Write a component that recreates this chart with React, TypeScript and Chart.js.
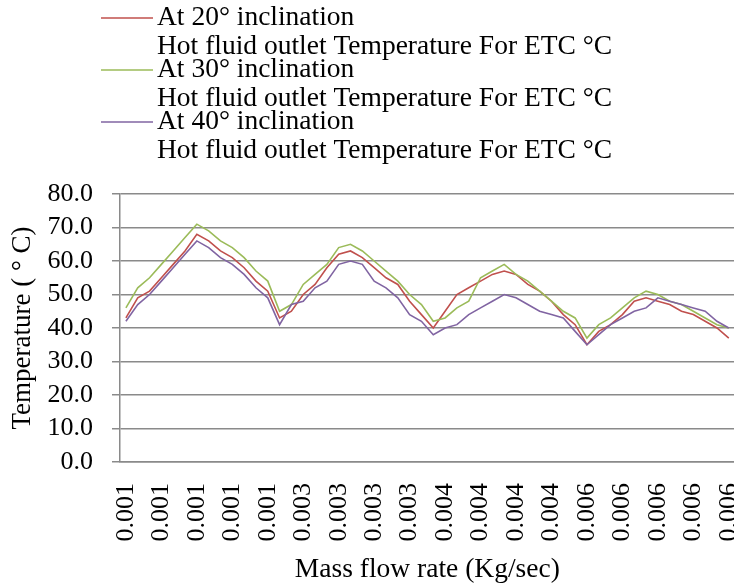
import React, { useEffect, useRef } from "react";
import { Chart, registerables } from "chart.js";

Chart.register(...registerables);

const categories = [
  "0.001", "0.001", "0.001", "0.001", "0.001", "0.001", "0.001", "0.001", "0.001", "0.001", "0.001", "0.001", "0.001",
  "0.003", "0.003", "0.003", "0.003", "0.003", "0.003", "0.003", "0.003", "0.003", "0.003", "0.003", "0.003", "0.003",
  "0.004", "0.004", "0.004", "0.004", "0.004", "0.004", "0.004", "0.004", "0.004", "0.004", "0.004", "0.004", "0.004",
  "0.006", "0.006", "0.006", "0.006", "0.006", "0.006", "0.006", "0.006", "0.006", "0.006", "0.006", "0.006", "0.006",
];

const at20 = [
  43, 49, 51, 55, 59, 63, 68, 66, 63, 61, 58, 54, 51,
  43, 45, 50, 53, 58, 62, 63, 61, 58, 55, 53, 48, 44,
  40, 45, 50, 52, 54, 56, 57, 56, 53, 51, 48, 44, 41,
  35, 39, 41, 44, 48, 49, 48, 47, 45, 44, 42, 40, 37,
];

const at30 = [
  46, 52, 55, 59, 63, 67, 71, 69, 66, 64, 61, 57, 54,
  45, 47, 53, 56, 59, 64, 65, 63, 60, 57, 54, 50, 47,
  42, 43, 46, 48, 55, 57, 59, 56, 54, 51, 48, 45, 43,
  37, 41, 43, 46, 49, 51, 50, 48, 47, 45, 43, 41, 40,
];

const at40 = [
  42, 47, 50, 54, 58, 62, 66, 64, 61, 59, 56, 52, 49,
  41, 47, 48, 52, 54, 59, 60, 59, 54, 52, 49, 44, 42,
  38, 40, 41, 44, 46, 48, 50, 49, 47, 45, 44, 43, 39,
  35, 38, 41, 43, 45, 46, 49, 48, 47, 46, 45, 42, 40,
];

const seriesNames = ["At 20° inclination", "At 30° inclination", "At 40° inclination"];
const seriesSubtitle = "Hot fluid outlet Temperature For ETC °C";
const seriesColors = ["#C0504D", "#9BBB59", "#8064A2"];
const yTicks = [0, 10, 20, 30, 40, 50, 60, 70, 80];
const xTitle = "Mass flow rate (Kg/sec)";
const yTitle = "Temperature ( ° C)";

const FONT = "'Liberation Serif', 'Times New Roman', serif";
const FS = 26;
const LEGEND_FS = 27.5;
const X_TITLE_FS = 27.5;
const Y_TITLE_FS = 27;

const legendPlugin = {
  id: "excelLegend",
  afterDraw(chart: any) {
    const ctx = chart.ctx;
    ctx.save();
    ctx.font = `${LEGEND_FS}px ${FONT}`;
    ctx.textBaseline = "middle";
    ctx.textAlign = "left";
    chart.data.datasets.forEach((ds: any, i: number) => {
      const y0 = 18 + 52 * i;
      ctx.strokeStyle = ds.borderColor;
      ctx.lineWidth = 1.5;
      ctx.beginPath();
      ctx.moveTo(101, y0);
      ctx.lineTo(153, y0);
      ctx.stroke();
      ctx.fillStyle = "#000";
      ctx.fillText(ds.label, 157, y0);
      ctx.fillText(seriesSubtitle, 157, y0 + 29);
    });
    ctx.restore();
  },
};

export default function App() {
  const ref = useRef<HTMLCanvasElement | null>(null);

  useEffect(() => {
    document.body.style.margin = "0";
    document.body.style.overflow = "hidden";
    const canvas = ref.current!;
    const data = [at20, at30, at40];
    const chart = new Chart(canvas, {
      type: "line",
      data: {
        labels: categories,
        datasets: data.map((d, i) => ({
          label: seriesNames[i],
          data: d,
          borderColor: seriesColors[i],
          backgroundColor: seriesColors[i],
          borderWidth: 1.6,
          pointRadius: 0,
          tension: 0,
          fill: false,
          order: 3 - i,
        })),
      },
      options: {
        responsive: false,
        animation: false,
        devicePixelRatio: 1,
        layout: { padding: { left: 0, top: 194, right: 0, bottom: 0 } },
        plugins: {
          legend: { display: false },
          tooltip: { enabled: false },
        },
        scales: {
          x: {
            offset: true,
            grid: { display: false, drawTicks: false },
            border: { display: true, color: "#8a8a8a", width: 1.5 },
            ticks: {
              autoSkip: false,
              minRotation: 90,
              maxRotation: 90,
              padding: 21,
              color: "#000",
              font: { family: FONT, size: FS },
              callback: (_v: any, i: number) => (i % 3 === 0 ? categories[i] : ""),
            },
            title: {
              display: true,
              text: xTitle,
              color: "#000",
              font: { family: FONT, size: X_TITLE_FS },
              padding: { top: 0, bottom: 0 },
            },
            afterFit: (scale: any) => {
              scale.height = 124;
            },
          },
          y: {
            min: 0,
            max: 80,
            afterBuildTicks: (scale: any) => {
              scale.ticks = yTicks.map((v) => ({ value: v }));
            },
            grid: { color: "#8a8a8a", lineWidth: 1.5, tickLength: 8, drawTicks: true },
            border: { display: true, color: "#8a8a8a", width: 1.5 },
            ticks: {
              autoSkip: false,
              padding: 19,
              color: "#000",
              font: { family: FONT, size: FS },
              callback: (v: any) => Number(v).toFixed(1),
            },
            title: {
              display: true,
              text: yTitle,
              color: "#000",
              font: { family: FONT, size: Y_TITLE_FS },
              padding: { top: 7, bottom: 0 },
            },
            afterFit: (scale: any) => {
              scale.width = 120;
            },
          },
        },
      },
      plugins: [legendPlugin],
    });
    return () => chart.destroy();
  }, []);

  return (
    <div style={{ width: 734, height: 586, overflow: "hidden", position: "relative" }}>
      <canvas ref={ref} width={781} height={586} style={{ display: "block", width: 781, height: 586 }} />
    </div>
  );
}
